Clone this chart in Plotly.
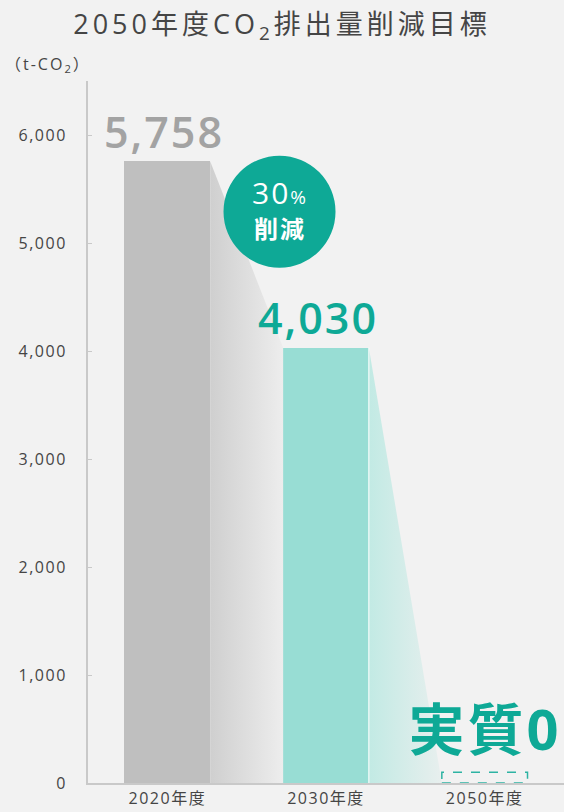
import plotly.graph_objects as go

# ---- data ----
categories = ["2020年度", "2030年度", "2050年度"]
emissions = [5758, 4030, 100]          # 2050 shown as a small dashed "net zero" box
value_labels = ["5,758", "4,030", "実質0"]
y_ticks = [0, 1000, 2000, 3000, 4000, 5000, 6000]
reduction_label = "30"
reduction_unit = "%"
reduction_text = "削減"

BG = "#f2f2f2"
GREY = "#bfbfbf"
TEAL_LIGHT = "#98ddd4"
TEAL = "#0ea996"
AXIS = "#c9c9c9"
TXT = "#454545"
FONT = "Open Sans, Noto Sans CJK JP"
BW = 0.54
h = BW / 2
xs = list(range(len(categories)))

fig = go.Figure()

# gradient connectors between bars
fig.add_trace(go.Scatter(
    x=[xs[0] + h, xs[1] - h, xs[1] - h, xs[0] + h, xs[0] + h],
    y=[emissions[0], emissions[1], 0, 0, emissions[0]],
    mode="lines", line=dict(width=0), fill="toself",
    fillgradient=dict(type="horizontal", colorscale=[[0, "#cfcfcf"], [1, "#ededed"]]),
    hoverinfo="skip", showlegend=False))
fig.add_trace(go.Scatter(
    x=[xs[1] + h, xs[2] - h, xs[2] - h, xs[1] + h, xs[1] + h],
    y=[emissions[1], 0, 0, 0, emissions[1]],
    mode="lines", line=dict(width=0), fill="toself",
    fillgradient=dict(type="horizontal", colorscale=[[0, "#c2eae4"], [1, "#e8efee"]]),
    hoverinfo="skip", showlegend=False))
# thin white separator on right of 2030 bar
fig.add_trace(go.Scatter(
    x=[xs[1] + h, xs[1] + h], y=[0, emissions[1]], mode="lines",
    line=dict(color="#ffffff", width=1), hoverinfo="skip", showlegend=False))

fig.add_trace(go.Bar(
    x=xs, y=emissions, width=BW,
    marker=dict(color=[GREY, TEAL_LIGHT, "rgba(0,0,0,0)"], line=dict(width=0)),
    showlegend=False, hoverinfo="skip"))

# dashed box for 2050
fig.add_shape(type="rect", x0=xs[2] - h, x1=xs[2] + h, y0=0, y1=emissions[2],
              line=dict(color="#2db3a3", width=1.5, dash="dash"), fillcolor="rgba(0,0,0,0)")

# reduction circle
fig.add_shape(type="circle", xref="x", yref="y", xsizemode="pixel", ysizemode="pixel",
              xanchor=0.707, yanchor=5290, x0=-56, x1=56, y0=-56, y1=56,
              fillcolor=TEAL, line=dict(width=0), layer="above")
fig.add_annotation(x=0.707, y=5290, xref="x", yref="y", yshift=19, showarrow=False,
                   text=reduction_label + "<span style='font-size:19px'>" + reduction_unit + "</span>",
                   font=dict(family=FONT, size=30, color="white"))
fig.add_annotation(x=0.707, y=5290, xref="x", yref="y", yshift=-17, showarrow=False,
                   text="<b>" + reduction_text + "</b>", font=dict(family=FONT, size=24, color="white"))

# value labels
fig.add_annotation(x=xs[0], y=emissions[0], xref="x", yref="y", yshift=30, xshift=-3,
                   showarrow=False, text=value_labels[0],
                   font=dict(family=FONT, size=43, color="#a3a3a3", weight=600))
fig.add_annotation(x=xs[1], y=emissions[1], xref="x", yref="y", yshift=30, xshift=-8,
                   showarrow=False, text=value_labels[1],
                   font=dict(family=FONT, size=43, color=TEAL, weight=600))
fig.add_annotation(x=xs[2], y=emissions[2], xref="x", yref="y", yshift=44, xshift=0,
                   showarrow=False, text="<b>" + value_labels[2] + "</b>",
                   font=dict(family=FONT, size=56, color=TEAL))

# unit label
fig.add_annotation(x=0, y=1.0228, xref="paper", yref="paper", xanchor="right", xshift=-2,
                   yanchor="middle", showarrow=False, text="（t-CO<sub>2</sub>）",
                   font=dict(family=FONT, size=16, color=TXT))

fig.update_layout(
    width=564, height=812,
    paper_bgcolor=BG, plot_bgcolor=BG,
    margin=dict(l=88, r=0, t=81, b=29),
    title=dict(text="2050年度CO<sub>2</sub>排出量削減目標", x=0.5, xref="container",
               xanchor="center", y=1 - 25 / 812, yanchor="middle",
               font=dict(family=FONT, size=27, color=TXT)),
    bargap=0,
)
fig.update_xaxes(range=[-0.5, 2.5], tickvals=xs, ticktext=categories,
                 showline=True, linecolor=AXIS, linewidth=2, showgrid=False, zeroline=False,
                 ticks="", tickfont=dict(family=FONT, size=16, color=TXT), fixedrange=True)
fig.update_yaxes(range=[0, 6500], tickvals=y_ticks, tickformat=",",
                 showline=True, linecolor=AXIS, linewidth=2, showgrid=False, zeroline=False,
                 ticks="inside", ticklen=4, tickcolor=AXIS, ticklabelstandoff=16,
                 tickfont=dict(family=FONT, size=16, color=TXT), fixedrange=True)

post = """
document.body.style.margin='0';
document.body.style.overflow='hidden';
document.querySelectorAll('.gtitle').forEach(function(e){e.style.letterSpacing='4px';});
document.querySelectorAll('.xtick text, .ytick text').forEach(function(e){e.style.letterSpacing='1.5px';});
var ann = document.querySelectorAll('.annotation-text');
ann.forEach(function(e){e.style.letterSpacing='2px';});
if (ann.length > 4) { ann[4].style.letterSpacing='3px'; }
"""
fig.write_html("out.html", post_script=post, config={"displayModeBar": False})
